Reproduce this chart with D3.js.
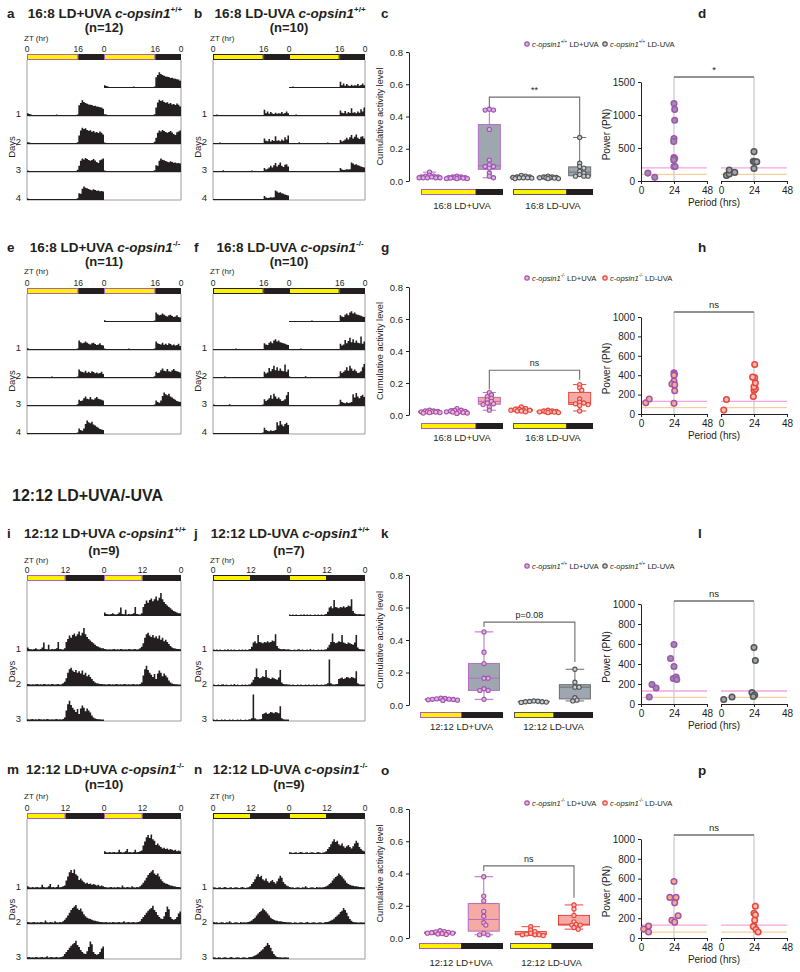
<!DOCTYPE html>
<html><head><meta charset="utf-8">
<script src="https://cdn.jsdelivr.net/npm/d3@7"></script>
<style>body{margin:0;background:#fff}svg{font-family:"Liberation Sans",Arial,Helvetica,sans-serif;display:block}</style>
</head><body>
<script>
// ===================== DATA =====================
// Actogram activity (arbitrary units 0-10), 30-min bins. Light bins then dark bins per day.
const aLight = [
 [1.0,0.7,0.5,0.4,0.3,0.4,0.3,0.2,0.3,0.4,0.3,0.2,0.3,0.3,0.4,0.3,0.2,0.3,0.5,0.3,0.2,0.3,0.4,0.3,0.3,0.2,0.3,0.4,0.3,0.2,0.3,0.5],
 [0.6,0.5,0.4,0.3,0.4,0.3,0.3,0.2,0.4,0.3,0.3,0.4,0.2,0.3,0.3,0.4,0.3,0.2,0.3,0.3,0.4,0.3,0.2,0.3,0.3,0.4,0.3,0.2,0.3,0.3,0.4,0.6],
 [0.5,0.4,0.3,0.4,0.3,0.2,0.3,0.3,0.4,0.3,0.2,0.3,0.3,0.4,0.3,0.3,0.2,0.3,0.4,0.3,0.3,0.2,0.3,0.4,0.3,0.3,0.2,0.3,0.3,0.4,0.3,0.8],
 [0.5,0.3,0.3,0.4,0.3,0.2,0.3,0.4,0.3,0.3,0.2,0.3,0.4,0.3,0.3,0.2,0.3,0.3,0.4,0.3,0.2,0.3,0.3,0.4,0.3,0.2,0.3,0.3,0.4,0.3,0.3,0.6]];
const aDark = [
 [3.8,4.6,5.6,5.0,4.6,4.4,4.1,4.0,3.9,3.6,3.7,3.4,3.3,3.1,3.0,2.6],
 [3.0,4.8,5.8,5.4,5.6,5.0,4.7,4.9,4.4,4.6,4.1,4.3,3.9,4.5,4.0,3.4],
 [2.2,4.0,4.8,4.5,5.0,4.6,4.3,4.0,4.3,4.6,4.1,3.6,3.2,4.2,4.5,4.8],
 [2.4,2.2,4.0,4.8,4.4,4.2,3.9,3.7,3.5,3.8,3.6,3.3,3.4,3.1,3.2,3.0]];
const bLight = [
 [0.4,0.3,0.5,0.3,0.2,0.3,0.4,0.3,0.3,0.2,0.3,0.4,0.3,0.2,0.3,0.3,0.4,0.3,0.2,0.3,0.3,0.4,0.3,0.2,0.3,0.3,0.4,0.3,0.2,0.3,0.3,0.4],
 [0.3,0.4,0.3,0.2,0.5,0.3,0.3,0.2,0.3,0.4,0.3,0.3,0.2,0.3,0.4,0.3,0.2,0.3,0.3,0.4,0.3,0.2,0.3,0.3,0.4,0.3,0.2,0.3,0.3,0.4,0.3,0.3],
 [0.4,0.3,0.2,0.3,0.3,0.4,0.6,0.3,0.2,0.3,0.3,0.4,0.3,0.2,0.3,0.3,0.4,0.3,0.2,0.3,0.3,0.4,0.3,0.2,0.5,0.3,0.3,0.2,0.3,0.4,0.3,0.4],
 [0.3,0.3,0.4,0.3,0.2,0.3,0.3,0.4,0.3,0.2,0.3,0.3,0.4,0.3,0.2,0.3,0.3,0.4,0.3,0.2,0.3,0.3,0.4,0.3,0.2,0.3,0.3,0.4,0.3,0.2,0.3,0.4]];
const bDark = [
 [2.2,1.0,1.6,0.8,1.4,0.9,0.7,1.2,0.8,1.0,0.9,1.4,0.8,1.1,1.6,1.0],
 [2.0,1.2,1.0,1.8,0.9,1.4,1.1,2.8,1.2,1.3,1.0,1.6,1.2,2.4,1.6,3.0],
 [1.4,0.9,1.2,1.6,2.2,1.6,2.4,3.2,2.0,2.6,3.4,2.2,1.8,2.6,2.8,2.0],
 [1.4,0.9,0.7,0.8,1.0,0.9,1.0,3.4,3.0,2.6,2.8,2.4,2.2,2.0,1.8,1.6]];
const eLight = [
 [0.6,0.4,0.3,0.4,0.3,0.3,0.2,0.3,0.4,0.3,0.3,0.2,0.3,0.4,0.3,0.3,0.2,0.3,0.3,0.4,0.3,0.2,0.3,0.3,0.4,0.3,0.3,0.2,0.3,0.3,0.4,0.5],
 [0.5,0.4,0.3,0.3,0.4,0.3,0.2,0.3,0.3,0.4,0.3,0.2,0.3,0.3,0.4,0.5,0.3,0.2,0.3,0.3,0.4,0.3,0.2,0.3,0.3,0.4,0.3,0.2,0.3,0.3,0.4,0.5],
 [0.4,0.3,0.4,0.3,0.3,0.2,0.3,0.4,0.3,0.3,0.2,0.3,0.4,0.3,0.3,0.2,0.3,0.4,0.3,0.3,0.2,0.3,0.4,0.3,0.3,0.2,0.3,0.4,0.3,0.3,0.4,0.6],
 [0.4,0.3,0.3,0.4,0.3,0.2,0.3,0.3,0.4,0.3,0.3,0.2,0.3,0.4,0.3,0.3,0.2,0.3,0.4,0.3,0.3,0.2,0.3,0.4,0.3,0.3,0.2,0.3,0.4,0.3,0.3,0.5]];
const eDark = [
 [3.4,2.8,2.4,2.6,3.0,2.6,2.2,2.0,2.4,2.6,2.1,1.8,2.0,2.4,1.8,1.6],
 [3.0,2.4,2.1,2.0,2.6,1.9,2.2,1.8,2.4,2.1,1.7,2.0,1.6,1.8,2.2,1.4],
 [2.2,1.8,2.0,2.8,3.4,2.6,2.4,3.2,2.4,2.2,2.8,3.2,2.6,2.4,2.2,2.0],
 [2.0,1.4,1.2,2.0,3.6,4.8,4.2,3.8,4.4,3.4,3.0,2.6,2.2,1.8,1.6,1.4]];
const fLight = [
 [0.3,0.4,0.3,0.3,0.2,0.3,0.4,0.3,0.3,0.2,0.3,0.4,0.3,0.3,0.5,0.3,0.2,0.3,0.4,0.3,0.3,0.2,0.3,0.4,0.3,0.3,0.2,0.3,0.4,0.3,0.3,0.4],
 [0.4,0.3,0.3,0.4,0.3,0.2,0.3,0.5,0.3,0.3,0.2,0.3,0.4,0.3,0.3,0.2,0.3,0.4,0.3,0.3,0.2,0.3,0.4,0.3,0.3,0.2,0.3,0.4,0.3,0.3,0.3,0.4],
 [0.5,0.3,0.3,0.2,0.3,0.4,0.3,0.3,0.2,0.3,0.6,0.3,0.3,0.2,0.3,0.4,0.3,0.3,0.2,0.3,0.4,0.3,0.3,0.2,0.3,0.4,0.3,0.3,0.2,0.3,0.4,0.5],
 [0.4,0.3,0.3,0.4,0.3,0.2,0.3,0.3,0.4,0.3,0.2,0.3,0.3,0.4,0.3,0.2,0.3,0.3,0.4,0.3,0.2,0.3,0.3,0.4,0.3,0.2,0.3,0.3,0.4,0.3,0.3,0.5]];
const fDark = [
 [2.4,2.0,1.8,2.6,3.0,2.4,3.4,3.8,3.0,3.4,2.8,2.6,2.4,2.2,2.0,1.8],
 [2.2,1.6,2.0,3.6,2.4,3.2,4.4,2.8,3.8,2.6,3.4,2.6,2.4,4.8,2.2,3.0],
 [2.4,1.8,2.2,2.8,3.8,2.6,4.4,3.4,2.6,3.0,2.4,1.8,2.0,2.4,3.8,5.0],
 [2.2,1.4,1.2,1.0,1.3,1.1,1.2,1.4,4.2,3.0,4.6,3.4,2.8,3.6,4.0,3.2]];
const iLight = [
 [1.0,0.6,0.5,0.4,0.6,0.8,0.5,0.4,0.6,1.0,2.4,0.6,0.5,1.8,0.4,0.6,0.5,0.6,0.8,2.6,0.6,0.5,0.4,0.8],
 [0.6,0.5,0.4,0.5,0.4,0.5,0.6,0.4,0.5,0.4,0.6,0.5,0.4,0.5,0.4,0.6,0.5,0.4,0.5,0.6,0.4,0.5,0.8,1.2],
 [0.5,0.4,0.5,0.6,0.4,0.5,0.4,0.6,0.5,0.4,0.5,0.4,0.6,0.5,0.4,0.5,0.4,0.5,0.6,0.4,0.5,0.4,0.6,1.0]];
const iDark = [
 [2.6,3.4,4.4,3.8,4.6,5.0,4.2,4.8,5.6,4.4,5.2,6.6,4.8,4.0,3.4,3.0,2.6,2.2,1.8,1.4,1.2,1.0,0.8,0.8],
 [2.2,3.8,4.8,5.2,4.4,4.0,4.6,3.8,4.2,3.6,4.4,3.2,3.8,2.8,3.2,2.6,2.0,1.4,1.0,0.8,0.7,0.6,0.6,0.5],
 [3.0,4.8,5.8,4.6,3.8,3.2,2.6,3.4,2.0,3.6,4.4,3.8,2.8,3.6,3.0,2.4,1.6,1.0,0.7,0.6,0.5,0.5,0.4,0.4]];
const jLight = [
 [0.4,0.3,0.4,0.3,0.4,0.3,0.3,0.4,0.3,0.5,0.3,0.4,0.3,0.4,0.3,0.3,0.4,0.3,0.4,0.3,0.4,0.3,0.4,0.6],
 [0.4,0.3,0.3,0.4,0.3,0.4,0.5,0.3,0.4,0.3,0.3,0.4,0.3,0.6,0.3,0.4,0.3,0.3,0.4,0.3,0.4,0.3,0.4,0.5],
 [0.4,0.3,0.4,0.3,0.3,0.4,0.3,0.4,0.3,0.3,0.4,0.3,0.4,0.3,0.3,0.4,0.3,0.4,0.3,0.3,0.4,0.3,0.4,0.5]];
const jDark = [
 [1.2,2.4,2.8,2.2,4.6,2.6,2.4,2.2,2.6,2.4,2.8,2.4,2.6,3.0,2.8,4.8,1.4,0.8,0.6,0.5,0.6,0.5,0.4,0.5],
 [1.0,1.8,2.6,5.0,2.6,2.2,2.4,2.8,2.6,4.6,2.4,2.2,2.0,2.4,2.2,2.0,1.8,2.4,4.6,1.0,0.6,0.5,0.5,0.4],
 [0.8,7.6,0.8,0.5,0.4,0.5,0.6,2.0,2.2,2.4,2.0,2.2,2.6,2.4,2.2,2.6,2.4,2.2,4.2,0.8,0.5,0.4,0.4,0.4]];
const mLight = [
 [0.8,0.5,0.4,0.6,0.4,0.5,0.6,0.4,0.5,1.2,0.6,0.4,0.5,0.8,1.4,0.5,0.6,0.4,0.6,1.2,0.5,0.6,0.8,1.0],
 [0.6,0.5,0.4,0.5,0.6,0.4,0.5,0.4,0.6,0.5,0.4,1.0,0.5,0.4,0.6,0.5,0.4,0.8,0.5,0.4,0.6,0.5,0.8,1.2],
 [0.5,0.6,0.4,0.5,0.4,0.6,0.5,0.4,0.5,0.6,0.4,0.5,0.8,0.4,0.5,0.6,0.4,0.5,0.6,0.4,0.5,0.6,0.8,1.4]];
const mDark = [
 [2.4,3.6,4.8,5.4,4.6,5.6,4.2,3.8,2.6,3.0,2.4,2.0,1.6,1.8,1.4,1.6,1.2,1.4,1.2,1.0,1.2,0.8,1.0,0.8],
 [1.8,2.4,3.2,4.0,4.6,5.0,5.4,4.4,4.0,4.4,3.6,2.8,2.2,1.8,1.6,1.4,1.2,1.0,0.9,0.8,0.7,0.6,0.6,0.5],
 [2.0,2.6,3.2,3.8,4.2,4.6,5.2,4.0,3.4,2.6,2.0,1.6,1.4,2.2,3.4,5.0,4.2,2.0,1.4,1.2,1.4,2.0,3.0,3.6]];
const nLight = [
 [0.5,0.4,0.3,0.4,0.5,0.3,0.4,0.6,0.4,0.3,0.4,0.5,0.3,0.4,0.5,0.4,0.3,0.4,0.6,0.4,0.3,0.4,0.5,0.8],
 [0.6,0.4,0.5,0.3,0.4,0.5,0.4,0.3,0.5,0.4,0.8,0.4,0.3,0.4,0.5,0.4,0.3,0.6,0.4,0.5,0.4,0.5,0.6,0.8],
 [0.5,0.4,0.3,0.5,0.4,0.3,0.4,0.5,0.4,0.3,0.4,0.6,0.4,0.3,0.4,0.5,0.4,0.3,0.4,0.5,0.4,0.3,0.5,0.6]];
const nDark = [
 [1.4,2.0,2.8,3.6,4.2,3.4,3.8,2.8,2.4,3.0,2.2,1.8,2.2,2.6,2.0,1.6,2.2,3.0,3.8,3.2,2.0,1.4,1.0,0.8],
 [1.0,1.4,1.8,2.4,3.0,3.4,3.8,4.4,4.0,3.6,3.0,2.4,1.8,1.4,1.2,1.0,0.9,0.8,0.8,0.7,0.6,0.6,0.5,0.5],
 [0.6,0.8,1.0,1.2,1.6,2.0,2.4,2.8,3.4,3.8,4.6,4.0,3.2,2.2,1.4,0.9,0.6,0.5,0.5,0.4,0.4,0.5,0.4,0.4]];

// Cumulative activity level per fish (box panels)
const c1 = [0.055,0.035,0.03,0.03,0.025,0.025,0.025,0.02,0.02,0.02,0.02,0.02];
const c2 = [0.03,0.025,0.025,0.02,0.02,0.02,0.02,0.018,0.018,0.015,0.015,0.015];
const c3 = [0.445,0.44,0.44,0.32,0.13,0.10,0.09,0.09,0.08,0.05,0.03,0.02];
const c4 = [0.035,0.03,0.025,0.025,0.022,0.02,0.02,0.02,0.018,0.015];
const c5 = [0.03,0.025,0.025,0.022,0.02,0.02,0.02,0.018,0.015,0.015];
const c6 = [0.27,0.11,0.09,0.08,0.06,0.05,0.04,0.03,0.03,0.03];
const g1 = [0.03,0.025,0.025,0.022,0.02,0.02,0.02,0.018,0.015,0.015,0.012];
const g2 = [0.04,0.03,0.028,0.025,0.022,0.02,0.02,0.018,0.015,0.012,0.01];
const g3 = [0.14,0.125,0.115,0.105,0.095,0.085,0.075,0.07,0.065,0.05,0.03];
const g4 = [0.05,0.04,0.035,0.035,0.03,0.03,0.03,0.025,0.025,0.02];
const g5 = [0.03,0.025,0.025,0.022,0.02,0.02,0.02,0.018,0.015,0.015];
const g6 = [0.19,0.17,0.155,0.10,0.08,0.075,0.07,0.065,0.06,0.025];
const k1 = [0.042,0.04,0.038,0.036,0.035,0.034,0.032,0.03,0.028];
const k2 = [0.45,0.325,0.255,0.165,0.165,0.10,0.09,0.09,0.035];
const k3 = [0.025,0.023,0.022,0.02,0.02,0.018,0.016];
const k4 = [0.22,0.14,0.11,0.11,0.045,0.03,0.025];
const o1 = [0.045,0.04,0.038,0.035,0.033,0.03,0.03,0.028,0.025,0.022];
const o2 = [0.38,0.26,0.23,0.165,0.135,0.095,0.08,0.03,0.02,0.02];
const o3 = [0.07,0.05,0.04,0.03,0.025,0.02,0.02,0.02,0.015];
const o4 = [0.205,0.18,0.14,0.10,0.085,0.08,0.08,0.065,0.055];

// Periodogram [period (hrs), power (PN)]
const dUva = [[5,120],[10,55],[24,1175],[24.5,1085],[24.5,920],[24,645],[23.8,600],[24,355],[24.5,340],[23.8,320],[24,220],[24.8,220]];
const dNo  = [[4,85],[6,105],[6,165],[10,130],[24,190],[23.5,300],[24.5,290],[26,290],[24,445]];
const hUva = [[3.5,115],[6,155],[24,425],[24.3,410],[24,400],[24,340],[22.5,310],[24.5,300],[24.5,240],[24,110]];
const hNo  = [[2,40],[4,150],[23.5,180],[24,245],[25,260],[24,280],[25,320],[24.5,375],[23,380],[24.5,510]];
const lUva = [[6,70],[8,195],[11,160],[21.5,455],[24,595],[24,375],[23.5,255],[25.5,270],[26,245]];
const lNo  = [[2,45],[8,70],[22.5,115],[24.5,90],[23.5,75],[24,565],[25,435]];
const pUva = [[2,90],[5.5,120],[5.5,60],[24,570],[21,410],[25.5,410],[24.5,355],[22.5,180],[24.5,160],[27,225]];
const pNo  = [[25,320],[24,250],[25,235],[24.5,180],[24,120],[23.5,115],[25.5,85],[27,60]];

const boxTicks = [0,0.2,0.4,0.6,0.8];
const periodTicks = [0,24,48];

// ===================== STYLE =====================
const YEL="#fff200", DARK="#231f20", PUR="#ad5fbd", TXT="#231f20";
const FRAME="#9c9c9c";
const sWtUva = {box:"#b56cc4", fill:"#9ea7b0", pst:"#a452b4", pfill:"#d5b5dc"};
const sWtNo  = {box:"#6d6d6d", fill:"#9ea7b0", pst:"#555555", pfill:"#c9ced3"};
const sKoUva = {box:"#b56cc4", fill:"#f5aaa3", pst:"#a452b4", pfill:"#f3b6c4"};
const sKoNo  = {box:"#e8453c", fill:"#f5aaa3", pst:"#e8453c", pfill:"#f8c3bd"};
const pWtUva = {st:"#a452b4", fill:"#8d97a1"};
const pWtNo  = {st:"#555555", fill:"#9da5ad"};
const pKoUva = {st:"#a452b4", fill:"#f2b07a"};
const pKoNo  = {st:"#e8453c", fill:"#f8bdb3"};

const svg = d3.select("body").append("svg").attr("width",800).attr("height",972);

function rich(parent, x, y, parts, o){
  const size=o.size;
  const t=parent.append("text").attr("x",x).attr("y",y).attr("font-size",size)
    .attr("font-weight",o.weight||"normal").attr("text-anchor",o.anchor||"start").attr("fill",TXT);
  let shift=0;
  parts.forEach(p=>{
    const s=t.append("tspan").text(p.t);
    if(p.it) s.attr("font-style","italic");
    const target=p.sup? -size*0.42 : 0;
    if(target!==shift){ s.attr("dy",target-shift); shift=target; }
    if(p.sup) s.attr("font-size",size*0.6);
  });
  return t;
}
function txt(parent,x,y,s,size,o={}){
  return parent.append("text").attr("x",x).attr("y",y).attr("font-size",size).attr("fill",TXT)
    .attr("text-anchor",o.anchor||"start").attr("font-weight",o.weight||"normal").text(s);
}
function vtxt(parent,x,y,s,size){
  return parent.append("text").attr("transform",`translate(${x},${y}) rotate(-90)`).attr("font-size",size)
    .attr("fill",TXT).attr("text-anchor","middle").text(s);
}

// ===================== ACTOGRAMS =====================
function actogram(cfg){
  const g=svg.append("g");
  const days=cfg.light.map((l,i)=>l.concat(cfg.dark[i]));
  const x=d3.scaleLinear().domain([0,48]).range([cfg.x0,cfg.x1]);
  const barBottom=cfg.barY+cfg.barH;
  const nRows=days.length+1;
  const bases=d3.range(nRows).map(r=>barBottom+cfg.rowH*(r+1));
  const ya=d3.scaleLinear().domain([0,10]).range([0,cfg.rowH]);
  g.append("line").attr("x1",x(0)).attr("x2",x(0)).attr("y1",barBottom).attr("y2",bases[nRows-1]).attr("stroke",FRAME);
  g.append("line").attr("x1",x(48)).attr("x2",x(48)).attr("y1",barBottom).attr("y2",bases[nRows-1]).attr("stroke",FRAME);
  bases.slice(1).forEach(b=>g.append("line").attr("x1",x(0)).attr("x2",x(48)).attr("y1",b).attr("y2",b).attr("stroke",FRAME));
  const area=d3.area().curve(d3.curveStepAfter).x(d=>x(d[0])).y0(d=>d[2]).y1(d=>d[2]-ya(d[1]));
  const binH=24/days[0].length;
  for(let r=0;r<nRows;r++){
    [[r-1,0],[r,24]].forEach(([di,off])=>{
      if(di<0||di>=days.length) return;
      const day=days[di];
      const pts=day.map((v,i)=>[off+i*binH,v,bases[r]]);
      pts.push([off+24,day[day.length-1],bases[r]]);
      g.append("path").attr("d",area(pts)).attr("fill",DARK);
      g.append("line").attr("x1",x(off)).attr("x2",x(off+24)).attr("y1",bases[r]-0.5).attr("y2",bases[r]-0.5)
        .attr("stroke",DARK).attr("stroke-width",1.2);
    });
  }
  const L=cfg.L;
  [[0,L,true],[L,24,false],[24,24+L,true],[24+L,48,false]].forEach(([a,b,lit])=>{
    g.append("rect").attr("x",x(a)+0.5).attr("y",cfg.barY+0.5).attr("width",x(b)-x(a)-1).attr("height",cfg.barH-1)
      .attr("fill",lit?YEL:DARK).attr("stroke",lit?(cfg.uva?PUR:DARK):DARK).attr("stroke-width",1);
  });
  [0,L,24,24+L,48].forEach(h=>txt(g,x(h),cfg.tickY,String(h%24===0?0:L),8.5,{anchor:"middle"}));
  txt(g,cfg.x0-3,cfg.ztY,"ZT (hr)",8);
  d3.range(1,nRows).forEach(r=>txt(g,cfg.x0-6,bases[r]+1,String(r),9.5,{anchor:"end"}));
  vtxt(g,cfg.x0-12,(bases[0]+bases[nRows-1])/2+3,"Days",9.5);
  txt(g,cfg.letterX,cfg.titleY,cfg.letter,13.5,{weight:"bold"});
  rich(g,(cfg.x0+cfg.x1)/2+1,cfg.titleY,[{t:cfg.cond+" "},{t:"c-opsin1",it:true},{t:cfg.geno,sup:true}],{size:13.5,weight:"bold",anchor:"middle"});
  txt(g,(cfg.x0+cfg.x1)/2,cfg.nY,cfg.n,13,{anchor:"middle",weight:"bold"});
}

const rowsY=[
  {titleY:18,nY:32,ztY:41,tickY:52,barY:54},
  {titleY:252,nY:266,ztY:274,tickY:286,barY:288},
  {titleY:538,nY:555,ztY:563,tickY:573,barY:575},
  {titleY:774,nY:789,ztY:799,tickY:811,barY:813}];
const L1={x0:27,x1:181,letterX:7}, R1={x0:213,x1:365,letterX:194};
actogram({...L1,...rowsY[0],barH:6,rowH:28,L:16,uva:true,light:aLight,dark:aDark,letter:"a",cond:"16:8 LD+UVA",geno:"+/+",n:"(n=12)"});
actogram({...R1,...rowsY[0],barH:6,rowH:28,L:16,uva:false,light:bLight,dark:bDark,letter:"b",cond:"16:8 LD-UVA",geno:"+/+",n:"(n=10)"});
actogram({...L1,...rowsY[1],barH:6,rowH:28,L:16,uva:true,light:eLight,dark:eDark,letter:"e",cond:"16:8 LD+UVA",geno:"-/-",n:"(n=11)"});
actogram({...R1,...rowsY[1],barH:6,rowH:28,L:16,uva:false,light:fLight,dark:fDark,letter:"f",cond:"16:8 LD-UVA",geno:"-/-",n:"(n=10)"});
actogram({...L1,...rowsY[2],barH:6,rowH:35,L:12,uva:true,light:iLight,dark:iDark,letter:"i",cond:"12:12 LD+UVA",geno:"+/+",n:"(n=9)"});
actogram({...R1,...rowsY[2],barH:6,rowH:35,L:12,uva:false,light:jLight,dark:jDark,letter:"j",cond:"12:12 LD-UVA",geno:"+/+",n:"(n=7)"});
actogram({...L1,...rowsY[3],barH:6,rowH:35,L:12,uva:true,light:mLight,dark:mDark,letter:"m",cond:"12:12 LD+UVA",geno:"-/-",n:"(n=10)"});
actogram({...R1,...rowsY[3],barH:6,rowH:35,L:12,uva:false,light:nLight,dark:nDark,letter:"n",cond:"12:12 LD-UVA",geno:"-/-",n:"(n=9)"});

txt(svg,12,501,"12:12 LD+UVA/-UVA",16,{weight:"bold"});

// ===================== LEGEND =====================
function legend(x,y,st,geno,cond){
  svg.append("circle").attr("cx",x).attr("cy",y).attr("r",2.2).attr("fill",st.pfill).attr("stroke",st.pst).attr("stroke-width",1.2);
  rich(svg,x+5,y+2.6,[{t:"c-opsin1",it:true},{t:geno,sup:true},{t:" "+cond}],{size:7.6});
}

// ===================== BOX PANELS =====================
function swarm(vals,y,r,cap){
  const placed=[];
  const step=r*0.95;
  const cand=[0];
  for(let i=1;i*step<=cap;i++){cand.push(i*step,-i*step);}
  return vals.map(v=>{
    const py=y(v);
    const minD=c=>placed.length?d3.min(placed,p=>Math.hypot(p[0]-c,p[1]-py)):1e9;
    let off=null;
    for(const c of cand){ if(minD(c)>=r*1.25){off=c;break;} }
    if(off===null) off=cand[d3.maxIndex(cand,minD)];
    placed.push([off,py]);
    return {v,dx:off,y:py};
  });
}
function boxPanel(cfg){
  const g=svg.append("g");
  const y=d3.scaleLinear().domain([0,0.8]).range([cfg.y0,cfg.y8]);
  const ax=g.append("g").attr("transform",`translate(409,0)`)
    .call(d3.axisLeft(y).tickValues(boxTicks).tickFormat(d3.format(".1f")).tickSize(3).tickSizeOuter(0));
  ax.selectAll("text").attr("font-size",9.5).attr("fill",TXT).attr("font-family",null);
  ax.selectAll("path,line").attr("stroke",TXT);
  vtxt(g,383,(cfg.y0+cfg.y8)/2,"Cumulative activity level",9.2);
  const centers=[];
  cfg.conds.forEach(cd=>{
    const hx=d3.scaleLinear().domain([0,24]).range([cd.x,cd.x+cd.w]);
    g.append("rect").attr("x",hx(0)+0.5).attr("y",cfg.barY+0.5).attr("width",hx(cfg.L)-hx(0)).attr("height",cfg.barH-1)
      .attr("fill",YEL).attr("stroke",cd.border);
    g.append("rect").attr("x",hx(cfg.L)+0.5).attr("y",cfg.barY+0.5).attr("width",hx(24)-hx(cfg.L)-1).attr("height",cfg.barH-1)
      .attr("fill",DARK).attr("stroke",DARK);
    txt(g,hx(12),cfg.labelY,cd.label,9.5,{anchor:"middle"});
    cd.groups.forEach((vals,i)=>{
      const cx=hx(cfg.slots[i]); centers.push(cx);
      const st=cd.style;
      const s=vals.slice().sort(d3.ascending);
      const q1=d3.quantile(s,0.25),md=d3.quantile(s,0.5),q3=d3.quantile(s,0.75),mn=s[0],mx=s[s.length-1];
      const w=cfg.boxW;
      g.append("line").attr("x1",cx).attr("x2",cx).attr("y1",y(mn)).attr("y2",y(mx)).attr("stroke",st.box);
      [mn,mx].forEach(v=>g.append("line").attr("x1",cx-w*0.3).attr("x2",cx+w*0.3).attr("y1",y(v)).attr("y2",y(v)).attr("stroke",st.box));
      g.append("rect").attr("x",cx-w/2).attr("y",y(q3)).attr("width",w).attr("height",Math.max(0.5,y(q1)-y(q3)))
        .attr("fill",st.fill).attr("stroke",st.box);
      g.append("line").attr("x1",cx-w/2).attr("x2",cx+w/2).attr("y1",y(md)).attr("y2",y(md)).attr("stroke",st.box);
      swarm(vals,y,2.2,cfg.boxW*0.55).forEach(p=>g.append("circle").attr("cx",cx+p.dx).attr("cy",p.y).attr("r",2.1)
        .attr("fill",st.pfill).attr("stroke",st.pst).attr("stroke-width",1.1));
    });
  });
  const b=cfg.bracket, xa=centers[b.a], xb=centers[b.b];
  g.append("path").attr("d",`M${xa},${y(b.va)}V${y(b.top)}H${xb}V${y(b.vb)}`).attr("fill","none").attr("stroke","#6e6e6e").attr("stroke-width",1.1);
  txt(g,(xa+xb)/2,y(b.top)-4,b.label,9,{anchor:"middle"});
  txt(g,381,cfg.letterY,cfg.letter,13.5,{weight:"bold"});
}
const slots168=[2.5,10.5,20], slots1212=[6,18.5];
boxPanel({letter:"c",letterY:18,y0:181,y8:52,barY:189,barH:6,labelY:209,L:16,slots:slots168,boxW:22,
  conds:[{x:421,w:82,border:PUR,label:"16:8 LD+UVA",groups:[c1,c2,c3],style:sWtUva},
         {x:513,w:80,border:"#555",label:"16:8 LD-UVA",groups:[c4,c5,c6],style:sWtNo}],
  bracket:{a:2,b:5,va:0.455,vb:0.285,top:0.52,label:"**"}});
boxPanel({letter:"g",letterY:252,y0:415,y8:287,barY:423,barH:6,labelY:441,L:16,slots:slots168,boxW:22,
  conds:[{x:421,w:82,border:PUR,label:"16:8 LD+UVA",groups:[g1,g2,g3],style:sKoUva},
         {x:513,w:80,border:"#555",label:"16:8 LD-UVA",groups:[g4,g5,g6],style:sKoNo}],
  bracket:{a:2,b:5,va:0.16,vb:0.22,top:0.28,label:"ns"}});
boxPanel({letter:"k",letterY:538,y0:705,y8:575,barY:712,barH:6,labelY:730,L:12,slots:slots1212,boxW:31,
  conds:[{x:420,w:83,border:PUR,label:"12:12 LD+UVA",groups:[k1,k2],style:sWtUva},
         {x:514,w:79,border:"#555",label:"12:12 LD-UVA",groups:[k3,k4],style:sWtNo}],
  bracket:{a:1,b:3,va:0.48,vb:0.265,top:0.51,label:"p=0.08"}});
boxPanel({letter:"o",letterY:775,y0:938,y8:809,barY:943,barH:6,labelY:966,L:12,slots:slots1212,boxW:31,
  conds:[{x:419,w:84,border:PUR,label:"12:12 LD+UVA",groups:[o1,o2],style:sKoUva},
         {x:510,w:83,border:"#555",label:"12:12 LD-UVA",groups:[o3,o4],style:sKoNo}],
  bracket:{a:1,b:3,va:0.415,vb:0.25,top:0.447,label:"ns"}});

legend(527,44,sWtUva,"+/+","LD+UVA"); legend(605,44,sWtNo,"+/+","LD-UVA");
legend(527,278,sKoUva,"-/-","LD+UVA"); legend(605,278,sKoNo,"-/-","LD-UVA");
legend(527,566,sWtUva,"+/+","LD+UVA"); legend(605,566,sWtNo,"+/+","LD-UVA");
legend(527,803,sKoUva,"-/-","LD+UVA"); legend(605,803,sKoNo,"-/-","LD-UVA");

// ===================== POWER PANELS =====================
function powerPanel(cfg){
  const g=svg.append("g");
  const y=d3.scaleLinear().domain([0,cfg.max]).range([cfg.y0,cfg.yTop]);
  const xL=d3.scaleLinear().domain([0,48]).range([641,707]);
  const xR=d3.scaleLinear().domain([0,48]).range([721,787]);
  [xL,xR].forEach(xs=>{
    g.append("line").attr("x1",xs(0)).attr("x2",xs(48)).attr("y1",y(cfg.pink)).attr("y2",y(cfg.pink)).attr("stroke","#f3a6dc").attr("stroke-width",1.3);
    g.append("line").attr("x1",xs(0)).attr("x2",xs(48)).attr("y1",y(cfg.orange)).attr("y2",y(cfg.orange)).attr("stroke","#f7cf9e").attr("stroke-width",1.3);
    g.append("line").attr("x1",xs(24)).attr("x2",xs(24)).attr("y1",cfg.bracketY).attr("y2",cfg.y0).attr("stroke","#c9c9c9").attr("stroke-width",1.2);
  });
  g.append("line").attr("x1",xL(24)).attr("x2",xR(24)).attr("y1",cfg.bracketY).attr("y2",cfg.bracketY).attr("stroke","#6e6e6e").attr("stroke-width",1.4);
  txt(g,(xL(24)+xR(24))/2,cfg.bracketY-4,cfg.label,9.5,{anchor:"middle"});
  const ay=g.append("g").attr("transform","translate(641,0)")
    .call(d3.axisLeft(y).tickValues(cfg.ticks).tickFormat(d3.format("d")).tickSize(3).tickSizeOuter(0));
  [xL,xR].forEach(xs=>{
    const a=g.append("g").attr("transform",`translate(0,${cfg.y0})`)
      .call(d3.axisBottom(xs).tickValues(periodTicks).tickSize(3).tickSizeOuter(0));
    a.selectAll("text").attr("font-size",10).attr("fill",TXT).attr("font-family",null);
    a.selectAll("path,line").attr("stroke",TXT);
  });
  ay.selectAll("text").attr("font-size",10).attr("fill",TXT).attr("font-family",null);
  ay.selectAll("path,line").attr("stroke",TXT);
  vtxt(g,610,(cfg.y0+cfg.yTop)/2+3,"Power (PN)",10);
  txt(g,714,cfg.y0+25,"Period (hrs)",10,{anchor:"middle"});
  [[cfg.left,xL,cfg.sl],[cfg.right,xR,cfg.sr]].forEach(([pts,xs,st])=>{
    pts.forEach(p=>g.append("circle").attr("cx",xs(p[0])).attr("cy",y(p[1])).attr("r",2.8)
      .attr("fill",st.fill).attr("stroke",st.st).attr("stroke-width",1.5));
  });
  txt(g,698,cfg.letterY,cfg.letter,13.5,{weight:"bold"});
}
const t1000=[0,200,400,600,800,1000];
powerPanel({letter:"d",letterY:18,y0:181,yTop:82,max:1500,ticks:[0,500,1000,1500],bracketY:77,label:"*",pink:200,orange:100,left:dUva,right:dNo,sl:pWtUva,sr:pWtNo});
powerPanel({letter:"h",letterY:252,y0:414,yTop:317,max:1000,ticks:t1000,bracketY:312,label:"ns",pink:130,orange:65,left:hUva,right:hNo,sl:pKoUva,sr:pKoNo});
powerPanel({letter:"l",letterY:538,y0:704,yTop:604,max:1000,ticks:t1000,bracketY:601,label:"ns",pink:130,orange:67,left:lUva,right:lNo,sl:pWtUva,sr:pWtNo});
powerPanel({letter:"p",letterY:775,y0:938,yTop:839,max:1000,ticks:t1000,bracketY:835,label:"ns",pink:130,orange:60,left:pUva,right:pNo,sl:pKoUva,sr:pKoNo});
</script>
</body></html>
